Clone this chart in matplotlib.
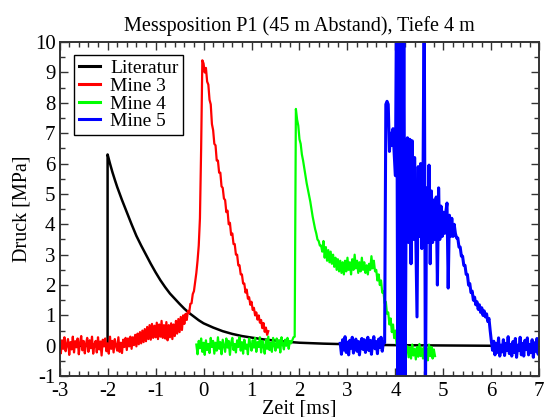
import numpy as np
import matplotlib
matplotlib.use('Agg')
import matplotlib.pyplot as plt
from matplotlib.ticker import MultipleLocator

# Sampling step of the measured traces [ms]; every row below covers 0.2 ms (8 samples)
STEP = 0.025

# Literature curve (smooth, given point by point)
lit_t = [-3.0, -2.0, -2.0, -1.95, -1.9, -1.85, -1.8, -1.7, -1.6, -1.5, -1.4, -1.3, -1.2, -1.1,
         -1.0, -0.9, -0.8, -0.7, -0.6, -0.5, -0.4, -0.3, -0.2, -0.1, 0.0, 0.2,
         0.4, 0.6, 0.8, 1.0, 1.25, 1.5, 1.75, 2.0, 2.5, 3.0, 3.5, 4.0, 5.0, 6.0, 7.0]
lit_p = [0.0, 0.0, 6.3, 6.0, 5.72, 5.47, 5.23, 4.8, 4.4, 4.0, 3.62, 3.3, 3.0, 2.7,
         2.42, 2.16, 1.93, 1.72, 1.55, 1.38, 1.22, 1.08, 0.96, 0.84, 0.74, 0.6,
         0.48, 0.39, 0.32, 0.27, 0.21, 0.17, 0.13, 0.1, 0.07, 0.05, 0.03, 0.02, 0.01, 0.0, 0.0]

# Mine 3, starts at -3.0 ms
mine3_t0 = -3.0
mine3_p = [
    0.08, -0.25, 0.18, -0.10, 0.28, -0.18, 0.05, 0.22,    # -3.0
    -0.30, 0.12, -0.12, 0.30, -0.22, 0.15, -0.05, 0.24,   # -2.8
    -0.28, 0.10, 0.32, -0.15, 0.16, -0.25, 0.06, 0.26,    # -2.6
    -0.20, 0.18, -0.08, 0.30, -0.26, 0.04, 0.16, -0.22,   # -2.4
    0.28, -0.12, 0.14, -0.32, 0.20, -0.02, 0.24, -0.18,   # -2.2
    0.08, -0.26, 0.30, -0.10, 0.16, -0.22, 0.22, 0.00,    # -2.0
    -0.16, 0.28, -0.20, 0.10, -0.24, 0.20, -0.04, 0.26,   # -1.8
    -0.14, 0.24, -0.02, 0.30, -0.10, 0.28, 0.02, 0.36,    # -1.6
    -0.02, 0.40, 0.05, 0.45, 0.08, 0.50, 0.12, 0.55,      # -1.4
    0.15, 0.62, 0.22, 0.68, 0.20, 0.72, 0.26, 0.66,       # -1.2
    0.28, 0.76, 0.22, 0.70, 0.30, 0.82, 0.26, 0.68,       # -1.0
    0.24, 0.78, 0.18, 0.68, 0.28, 0.74, 0.22, 0.70,       # -0.8
    0.32, 0.82, 0.40, 0.88, 0.45, 0.95, 0.52, 1.00,       # -0.6
    0.72, 1.05, 0.85, 1.15, 1.08, 1.38, 1.40, 1.70,       # -0.4
    1.80, 2.10, 2.40, 2.80, 3.30, 4.20, 6.50, 9.40,       # -0.2
    9.30, 9.00, 9.15, 8.70, 8.60, 8.10, 7.95, 7.30,       # 0.0
    7.10, 6.65, 6.60, 6.10, 6.10, 5.70, 5.70, 5.25,       # 0.2
    5.20, 4.85, 4.80, 4.40, 4.45, 4.00, 4.05, 3.65,       # 0.4
    3.70, 3.35, 3.35, 3.00, 3.00, 2.65, 2.65, 2.35,       # 0.6
    2.35, 2.05, 2.05, 1.75, 1.85, 1.55, 1.60, 1.35,       # 0.8
    1.45, 1.18, 1.25, 1.00, 1.10, 0.86, 1.00, 0.76,       # 1.0
    0.85, 0.58, 0.75, 0.46, 0.60, 0.36, 0.48,             # 1.2
]

# Mine 4, starts at -0.15 ms
mine4_t0 = -0.15
mine4_p = [
    0.04, -0.28, 0.16, -0.08, 0.24, -0.20, 0.10, -0.30,   # -0.15
    0.18, -0.14, 0.06, -0.24, 0.26, -0.04, 0.16, -0.26,   # 0.05
    0.10, -0.16, 0.28, -0.10, 0.12, -0.28, 0.20, 0.00,    # 0.25
    -0.20, 0.24, -0.06, 0.16, -0.30, 0.10, 0.26, -0.14,   # 0.45
    0.06, -0.22, 0.18, -0.04, 0.28, -0.16, 0.12, -0.26,   # 0.65
    0.20, -0.10, 0.04, -0.28, 0.24, 0.06, -0.16, 0.18,    # 0.85
    -0.06, 0.26, -0.20, 0.12, -0.04, 0.28, -0.22, 0.16,   # 1.05
    0.00, -0.26, 0.20, -0.10, 0.30, -0.14, 0.10, -0.20,   # 1.25
    0.26, 0.02, -0.16, 0.24, -0.06, 0.18, -0.22, 0.28,    # 1.45
    0.06, -0.12, 0.20, 0.00, 0.26, -0.10, 0.16, 0.08,     # 1.65
    0.18, 0.28, 0.30, 7.80, 7.45, 7.25, 6.80, 6.65,       # 1.85
    6.30, 6.10, 5.85, 5.60, 5.35, 5.15, 4.95, 4.75,       # 2.05
    4.50, 4.25, 4.05, 3.85, 3.70, 3.50, 3.45, 3.30,       # 2.25
    3.30, 3.10, 3.45, 2.90, 3.25, 2.80, 3.15, 2.75,       # 2.45
    3.10, 2.70, 3.00, 2.60, 2.90, 2.50, 2.85, 2.45,       # 2.65
    2.80, 2.40, 2.75, 2.35, 2.80, 2.45, 2.90, 2.50,       # 2.85
    2.75, 2.35, 2.85, 2.50, 3.00, 2.55, 2.80, 2.40,       # 3.05
    2.75, 2.45, 2.90, 2.50, 2.75, 2.40, 2.65, 2.35,       # 3.25
    2.70, 2.50, 2.95, 2.55, 2.80, 2.45, 2.50, 2.15,       # 3.45
    2.35, 2.00, 2.15, 1.75, 1.80, 1.40, 1.45, 1.05,       # 3.65
    1.10, 0.70, 0.90, 0.45, 0.70, 0.25, 0.50, 0.05,       # 3.85
    0.10, -0.30, 0.15, -0.25, 0.05, -0.35, 0.05, -0.20,   # 4.05
    -0.02, -0.38, -0.06, -0.42, 0.04, -0.32, -0.10, -0.45,  # 4.25
    -0.04, -0.36, 0.06, -0.34, -0.08, -0.42, -0.02, -0.30,  # 4.45
    -0.08, -0.48, 0.04, -0.34, -0.04, -0.42, -0.12, -0.34,  # 4.65
]

# Mine 5, starts at 2.85 ms (values beyond the axis range are clipped spikes)
mine5_t0 = 2.85
mine5_p = [
    0.08, -0.28, 0.20, -0.14, 0.30, -0.22, 0.12, -0.30,   # 2.85
    0.18, -0.08, 0.28, -0.24, 0.04, 0.22, -0.18, 0.14,    # 3.05
    -0.30, 0.10, 0.24, -0.12, 0.20, -0.22, 0.06, 0.28,    # 3.25
    -0.16, 0.18, -0.28, 0.12, 0.30, -0.10, 0.14, -0.26,   # 3.45
    0.22, -0.06, 0.28, -0.18, 0.12, 0.10, 7.95, 8.05,     # 3.65
    7.95, 6.40, 7.00, 6.60, 7.15, 6.30, 5.60, 12.0,       # 3.85
    -2.0, 12.0, -2.0, 12.0, -2.0, 12.0, -2.0, 5.00,       # 4.05
    6.85, 3.40, 6.80, 2.70, 6.75, 3.50, 6.20, 3.60,       # 4.25
    0.95, 5.90, 3.60, 6.00, 3.20, 5.40, 12.0, -2.0,       # 4.45
    5.20, 3.40, 5.95, 2.70, 5.10, 3.40, 4.80, 3.50,       # 4.65
    4.90, 2.00, 5.20, 3.50, 4.60, 3.60, 4.40, 3.70,       # 4.85
    4.40, 4.70, 1.90, 4.30, 3.60, 4.20, 3.60, 4.00,       # 5.05
    3.70, 3.55, 3.55, 3.25, 3.25, 2.95, 2.95, 2.65,       # 5.25
    2.65, 2.35, 2.35, 2.00, 2.05, 1.75, 1.80, 1.50,       # 5.45
    1.60, 1.35, 1.45, 1.20, 1.35, 1.10, 1.25, 1.00,       # 5.65
    1.15, 0.95, 1.05, 0.80, 0.90, 0.50, 0.15, -0.15,      # 5.85
    0.15, -0.30, 0.08, -0.22, 0.26, -0.34, 0.02, -0.20,   # 6.05
    0.20, -0.32, 0.08, -0.16, 0.30, -0.26, 0.04, -0.34,   # 6.25
    0.14, -0.22, 0.24, -0.38, 0.02, -0.16, 0.28, -0.30,   # 6.45
    0.08, -0.34, 0.18, -0.12, 0.26, -0.30, 0.04, -0.22,   # 6.65
    0.20, -0.38, 0.10, -0.18, 0.24, -0.28, 0.08,          # 6.85
]

labels = ["Literatur", "Mine 3", "Mine 4", "Mine 5"]
colors = ["#000000", "#ff0000", "#00ff00", "#0000ff"]


def time_axis(t0, values):
    return t0 + STEP * np.arange(len(values))


def main():
    plt.rcParams['font.family'] = ['Liberation Serif', 'DejaVu Serif']
    plt.rcParams['axes.unicode_minus'] = False

    fig = plt.figure(figsize=(5.47, 4.17), dpi=100)
    ax = fig.add_axes([0.109, 0.098, 0.877, 0.801])

    ax.plot(lit_t, lit_p, color=colors[0], lw=1.8, label=labels[0])
    ax.plot(time_axis(mine3_t0, mine3_p), mine3_p, color=colors[1], lw=1.6, label=labels[1])
    ax.plot(time_axis(mine4_t0, mine4_p), mine4_p, color=colors[2], lw=1.6, label=labels[2])
    ax.plot(time_axis(mine5_t0, mine5_p), mine5_p, color=colors[3], lw=2.2, label=labels[3])

    ax.set_xlim(-3, 7)
    ax.set_ylim(-1, 10)
    ax.xaxis.set_major_locator(MultipleLocator(1))
    ax.xaxis.set_minor_locator(MultipleLocator(0.2))
    ax.yaxis.set_major_locator(MultipleLocator(1))
    ax.yaxis.set_minor_locator(MultipleLocator(0.5))
    ax.tick_params(which='both', direction='in', top=True, right=True,
                   labelsize=15, color='#333333', width=1.0)
    ax.tick_params(which='major', length=6, pad=3)
    ax.tick_params(axis='x', which='major', pad=4)
    ax.tick_params(which='minor', length=3.5)
    for s in ax.spines.values():
        s.set_linewidth(1.4)
        s.set_color('#333333')

    ax.set_title("Messposition P1 (45 m Abstand), Tiefe 4 m", fontsize=14.5, pad=8)
    ax.set_xlabel("Zeit [ms]", fontsize=14.5, labelpad=-1)
    ax.set_ylabel("Druck [MPa]", fontsize=14.5, labelpad=2)

    leg = ax.legend(loc='upper left', bbox_to_anchor=(0.03, 0.962), fontsize=14,
                    frameon=True, fancybox=False, edgecolor='black', framealpha=1,
                    handlelength=1.1, handletextpad=0.5, labelspacing=0.0,
                    borderpad=0.25, borderaxespad=0.0)
    leg.get_frame().set_linewidth(1.0)
    for line in leg.get_lines():
        line.set_linewidth(2.2)

    fig.savefig("out.png", dpi=100)


if __name__ == '__main__':
    main()
